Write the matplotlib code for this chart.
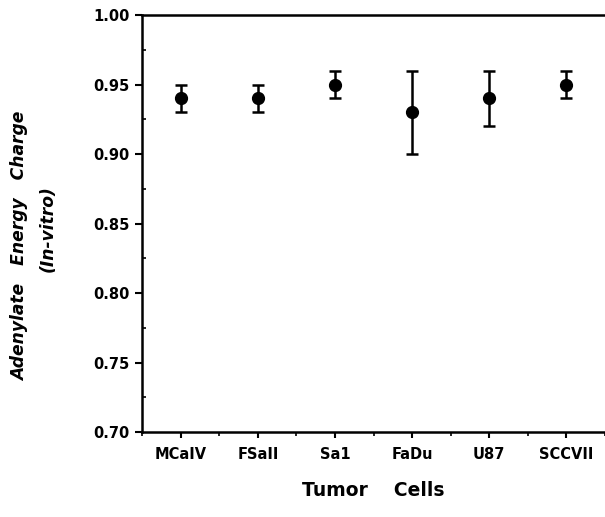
import matplotlib
matplotlib.use("Agg")
import matplotlib.pyplot as plt
from matplotlib.ticker import MultipleLocator, FixedLocator

categories = ["MCaIV", "FSaII", "Sa1", "FaDu", "U87", "SCCVII"]
values = [0.94, 0.94, 0.95, 0.93, 0.94, 0.95]
err_low = [0.01, 0.01, 0.01, 0.03, 0.02, 0.01]
err_high = [0.01, 0.01, 0.01, 0.03, 0.02, 0.01]

plt.rcParams['font.family'] = ['DejaVu Sans']

fig = plt.figure(figsize=(6.05, 5.17), dpi=100)
ax = fig.add_axes([0.235, 0.164, 0.765, 0.807])

x = list(range(len(categories)))
ax.errorbar(x, values, yerr=[err_low, err_high], fmt='o', color='black',
            markersize=8.5, capsize=4, elinewidth=1.8, capthick=1.8)

ax.set_xlim(-0.5, 5.5)
ax.set_ylim(0.70, 1.00)
ax.yaxis.set_major_locator(MultipleLocator(0.05))
ax.yaxis.set_minor_locator(MultipleLocator(0.025))
ax.set_xticks(x)
ax.set_xticklabels(categories, fontsize=10.5, fontweight='bold')
ax.xaxis.set_minor_locator(FixedLocator([i + 0.5 for i in range(-1, 6)]))
ax.set_yticklabels([f"{v:.2f}" for v in ax.get_yticks()], fontsize=10.5, fontweight='bold')

for s in ['left', 'bottom', 'top']:
    ax.spines[s].set_linewidth(1.8)
ax.spines['right'].set_visible(False)
ax.tick_params(axis='y', which='major', direction='out', length=5, width=1.5, pad=4)
ax.tick_params(axis='y', which='minor', direction='in', length=3, width=1.2)
ax.tick_params(axis='x', which='major', direction='out', length=4, width=1.5, pad=7)
ax.tick_params(axis='x', which='minor', direction='out', length=3, width=1.2)

fig.text(20 / 605, 1 - 246/517, "Adenylate   Energy   Charge", rotation=90,
         ha='center', va='center', fontsize=12.3, fontweight='bold', style='italic')
fig.text(48 / 605, 1 - 229/517, "(In-vitro)", rotation=90,
         ha='center', va='center', fontsize=12.3, fontweight='bold', style='italic')
fig.text(373 / 605, 1 - 491/517, "Tumor    Cells",
         ha='center', va='center', fontsize=13.5, fontweight='bold')

fig.savefig("out.png", dpi=100)
